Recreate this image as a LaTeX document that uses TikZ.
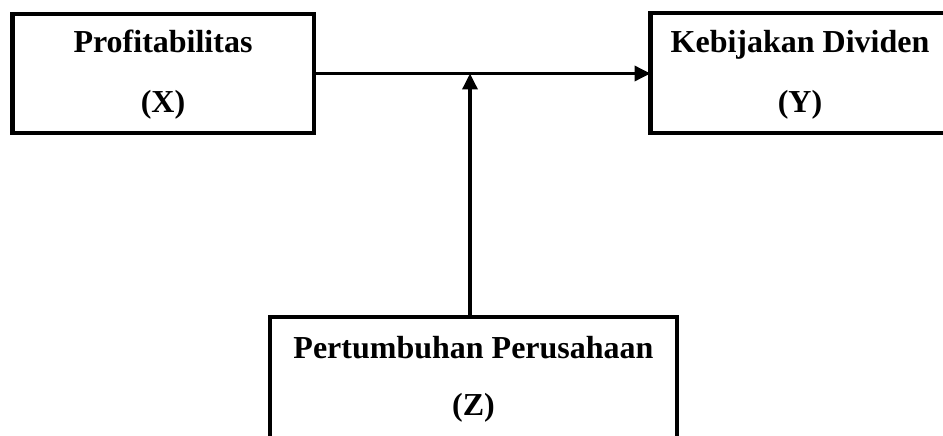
\documentclass[tikz,border=0pt]{standalone}
\usepackage{fontspec}
\setmainfont{Liberation Serif}
\usetikzlibrary{arrows.meta}
\begin{document}
\begin{tikzpicture}[x=1pt,y=-1pt,
  boxnode/.style={draw,line width=4.2pt,inner sep=0pt,outer sep=0pt},
  lbl/.style={anchor=base,inner sep=0pt,font=\fontsize{32}{38}\selectfont\bfseries},
  conn/.style={line width=3.5pt,-{Triangle[length=16pt,width=15pt]}}]
\useasboundingbox (0,0) rectangle (943,436);
\clip (0,0) rectangle (943,436);
\node[boxnode,minimum width=301.5pt,minimum height=119.5pt] (X) at (163.25,73.5) {};
\node[boxnode,minimum width=310pt,minimum height=120pt] (Y) at (805.5,73) {};
\node[boxnode,minimum width=407pt,minimum height=130pt] (Z) at (473.5,382) {};
\node[lbl] (xt) at (163,53) {Profitabilitas};
\node[lbl] (xs) at (163,112) {(X)};
\node[lbl] (yt) at (800,53) {Kebijakan Dividen};
\node[lbl] (ys) at (800,113) {(Y)};
\node[lbl] (zt) at (473.5,358) {Pertumbuhan Perusahaan};
\node[lbl] (zs) at (473.5,415) {(Z)};
\coordinate (m) at (470,73.5);
\draw[conn] (X.east |- m) -- (Y.west |- m);
\draw[conn] (Z.north -| m) -- (m);
\end{tikzpicture}
\end{document}
